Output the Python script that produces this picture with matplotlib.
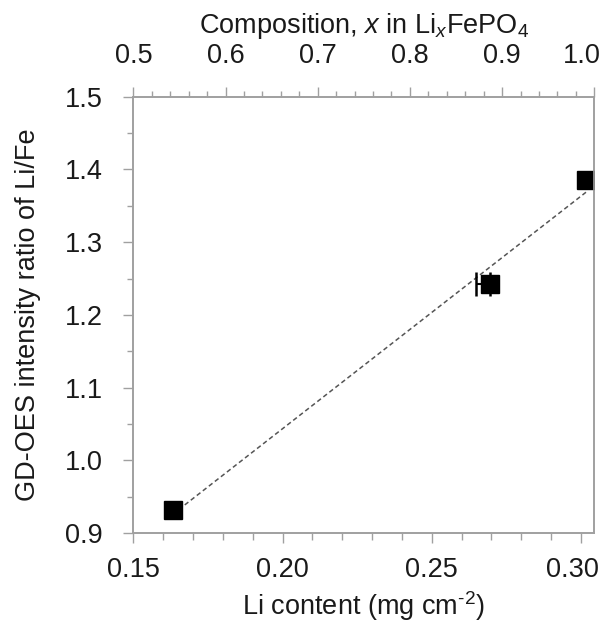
import numpy as np
import matplotlib
matplotlib.use("Agg")
import matplotlib.pyplot as plt
import matplotlib.transforms as mtransforms
from matplotlib.ticker import MultipleLocator

plt.rcParams['font.family'] = ['Liberation Sans', 'DejaVu Sans']
plt.rcParams['mathtext.fontset'] = 'custom'
plt.rcParams['mathtext.rm'] = 'Liberation Sans'
plt.rcParams['mathtext.it'] = 'Liberation Sans:italic'

# Li content vs GD-OES ratio
li_content = [0.1632, 0.2695, 0.3017]
ratio = [0.931, 1.243, 1.386]
# only the middle sample carries an (asymmetric) x error bar
err_idx = 1
err_low = 0.0045

x_ticks = [0.15, 0.20, 0.25, 0.30]
comp_ticks = [0.5, 0.6, 0.7, 0.8, 0.9, 1.0]
y_ticks = [0.9, 1.0, 1.1, 1.2, 1.3, 1.4, 1.5]

text_col = "#1a1a1a"
axis_col = "#a0a0a0"
fs = 19.5

fig = plt.figure(figsize=(6.11, 6.24), dpi=100)
ax = fig.add_axes([0.2182, 0.1458, 0.7545, 0.6992])

# linear trend line through the points
k, b = np.polyfit(li_content, ratio, 1)
xf = np.array([min(li_content), max(li_content)])
ax.plot(xf, k * xf + b, linestyle=(0, (3, 2)), color="#555555", lw=1.1, zorder=2)

ax.errorbar([li_content[err_idx]], [ratio[err_idx]], xerr=[[err_low], [0.0]],
            fmt="none", ecolor="black", elinewidth=1.5, capsize=8.5,
            capthick=1.8, zorder=3)
ax.plot(li_content, ratio, "s", color="black", markersize=13.5, zorder=4)

ax.set_xlim(0.15, 0.3045)
ax.set_ylim(0.9, 1.5)
ax.set_xticks(x_ticks)
ax.set_xticklabels(["%.2f" % v for v in x_ticks])
ax.set_yticks(y_ticks)
ax.set_yticklabels(["%.1f" % v for v in y_ticks])
ax.xaxis.set_minor_locator(MultipleLocator(0.01))
ax.yaxis.set_minor_locator(MultipleLocator(0.05))

ax.tick_params(which="both", direction="out", color=axis_col, width=1,
               labelsize=fs, labelcolor=text_col)
ax.tick_params(axis="x", which="major", length=7, pad=10)
ax.tick_params(axis="x", which="minor", length=5)
ax.tick_params(axis="y", which="major", length=7, pad=15)
ax.tick_params(axis="y", which="minor", length=4)

for s in ax.spines.values():
    s.set_color(axis_col)
    s.set_linewidth(1.2)

ax.set_xlabel(r"Li content (mg cm$^{\text{-}2}$)", fontsize=fs, color=text_col, labelpad=5)
ax.set_ylabel("GD-OES intensity ratio of Li/Fe", fontsize=fs, color=text_col, labelpad=17)

# composition axis on top
top = ax.twiny()
top.set_xlim(0.5, 1.0)
top.set_xticks(comp_ticks)
top.set_xticklabels(["%.1f" % v for v in comp_ticks])
top.xaxis.set_minor_locator(MultipleLocator(0.02))
top.tick_params(which="both", direction="out", color=axis_col, width=1,
                labelsize=fs, labelcolor=text_col)
top.tick_params(which="major", length=7, pad=13)
top.tick_params(which="minor", length=4)
for s in top.spines.values():
    s.set_color(axis_col)
    s.set_linewidth(1.2)
top.set_xlabel("Composition, $x$ in Li$_x$FePO$_4$", fontsize=fs, color=text_col, labelpad=7)

# nudge the right-most tick labels inward so they stay inside the figure
fig.canvas.draw()
for lab, dx in ((top.get_xticklabels()[-1], -9), (ax.get_xticklabels()[-1], -6)):
    lab.set_transform(lab.get_transform() +
                      mtransforms.ScaledTranslation(dx / 72, 0, fig.dpi_scale_trans))

plt.savefig("out.png", dpi=100)
